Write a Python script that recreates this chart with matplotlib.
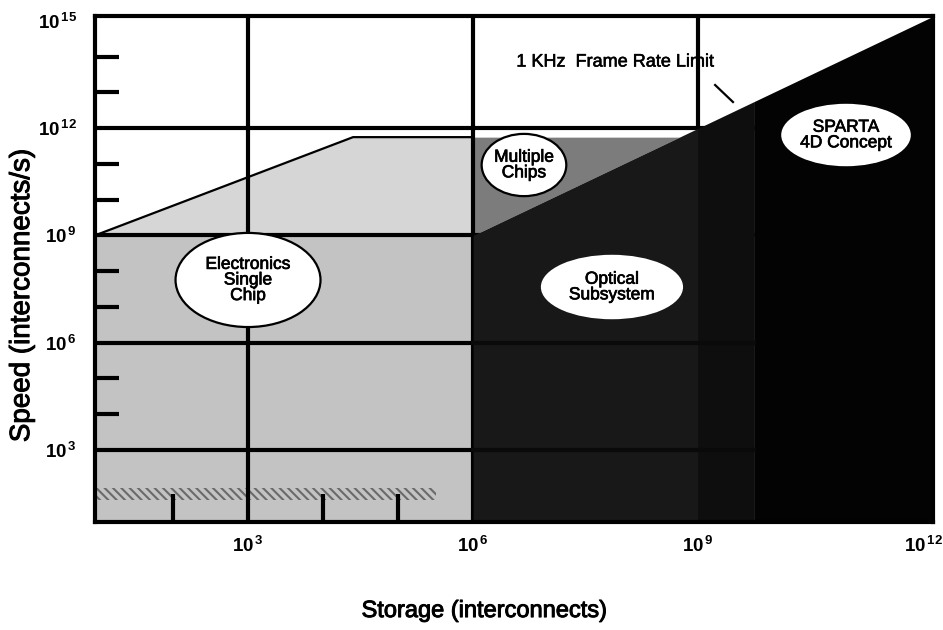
import matplotlib
matplotlib.use("Agg")
import matplotlib.pyplot as plt
import matplotlib.patheffects as pe
from matplotlib.patches import Ellipse
import numpy as np

plt.rcParams['font.family'] = ['Liberation Sans', 'DejaVu Sans']
plt.rcParams['mathtext.fontset'] = 'custom'
plt.rcParams['mathtext.rm'] = 'Liberation Sans'
plt.rcParams['mathtext.bf'] = 'Liberation Sans:bold'
plt.rcParams['mathtext.it'] = 'Liberation Sans:italic'
plt.rcParams['hatch.linewidth'] = 1.5

# Axis extents
storage_limits = [10 ** 0.96, 10 ** 12.13]
speed_limits = [10 ** 0.98, 10 ** 15.14]

# Ticks
storage_ticks = [1e3, 1e6, 1e9, 1e12]
storage_tick_labels = [r'$\mathbf{10^{\,3}}$', r'$\mathbf{10^{\,6}}$',
                       r'$\mathbf{10^{\,9}}$', r'$\mathbf{10^{\,12}}$']
storage_minor = [1e2, 1e4, 1e5]
speed_ticks = [1e3, 1e6, 1e9, 1e12, 1e15]
speed_tick_labels = [r'$\mathbf{10^{\,3}}$', r'$\mathbf{10^{\,6}}$',
                     r'$\mathbf{10^{\,9}}$', r'$\mathbf{10^{\,12}}$',
                     r'$\mathbf{10^{\,15}}$']
speed_minor = [1e4, 1e5, 1e7, 1e8, 1e10, 1e11, 1e13, 1e14]

# 1 KHz frame rate limit: speed = frame_rate * storage
frame_rate = 1e3

# Electronics (single chip) envelope
chip_storage = [10 ** 0.96, 10 ** 4.4, 1e6]
chip_speed = [1e9, 10 ** 11.75, 10 ** 11.75]
chip_floor_speed = 1e9

# Multiple chips: between the frame-rate limit and the chip ceiling
multi_storage = [1e6, 10 ** 8.75]
multi_ceiling = 10 ** 11.75

# Optical subsystem and SPARTA 4D concept (below the frame-rate limit)
optical_storage_a = [1e6, 1e9]
optical_storage_b = [1e9, 10 ** 9.75]
sparta_storage = [10 ** 9.75, 10 ** 12.13]

# Scan streak near the bottom of the chip region
streak_storage = [10 ** 0.96, 10 ** 5.5]
streak_speed = [10 ** 1.6, 10 ** 1.93]

fig = plt.figure(figsize=(9.43, 6.30), dpi=100)
ax = fig.add_axes([95 / 943, 108 / 630, 838 / 943, 506 / 630])
ax.set_xscale('log')
ax.set_yscale('log')
ax.set_xlim(*storage_limits)
ax.set_ylim(*speed_limits)

ymin = speed_limits[0]

# Electronics single chip region
ax.fill_between([storage_limits[0], chip_storage[-1]], ymin, chip_floor_speed,
                color='#c3c3c3', linewidth=0, zorder=1)
ax.fill_between(chip_storage, chip_floor_speed, chip_speed,
                color='#d6d6d6', linewidth=0, zorder=1)
ax.plot(chip_storage, chip_speed, color='black', linewidth=1.6, zorder=2)

# streak
ax.fill_between(streak_storage, streak_speed[0], streak_speed[1],
                facecolor='none', edgecolor='#6a6a6a', hatch='\\\\\\\\',
                linewidth=0, zorder=1.5)

# Multiple chips region
ms = np.array(multi_storage)
ax.fill_between(ms, frame_rate * ms, multi_ceiling,
                color='#7c7c7c', linewidth=0, zorder=1)

# Heavy grid
for xv in storage_ticks[:-1]:
    ax.axvline(xv, color='black', linewidth=3, zorder=2.2)
for yv in speed_ticks[:-1]:
    ax.axhline(yv, color='black', linewidth=3, zorder=2.2)

# Optical subsystem
oa = np.array(optical_storage_a)
ax.fill_between(oa, ymin, frame_rate * oa, color='#181818', linewidth=0, zorder=3)
ob = np.array(optical_storage_b)
ax.fill_between(ob, ymin, frame_rate * ob, color='#0e0e0e', linewidth=0, zorder=3)

# SPARTA 4D concept
sp = np.array(sparta_storage)
ax.fill_between(sp, ymin, frame_rate * sp, color='#030303', linewidth=0, zorder=3)

# faint grid traces through the optical region
for yv in speed_ticks[:2]:
    ax.plot(optical_storage_a + [optical_storage_b[1]], [yv] * 3,
            color='#0a0a0a', linewidth=3, zorder=3.1)

# Ticks and labels
ax.set_xticks(storage_ticks)
ax.set_xticklabels(storage_tick_labels)
ax.set_xticks(storage_minor, minor=True)
ax.set_yticks(speed_ticks)
ax.set_yticklabels(speed_tick_labels)
ax.set_yticks(speed_minor, minor=True)
ax.xaxis.set_minor_formatter(matplotlib.ticker.NullFormatter())
ax.yaxis.set_minor_formatter(matplotlib.ticker.NullFormatter())
ax.tick_params(which='major', length=0, labelsize=13.5)
ax.tick_params(axis='x', which='major', pad=10)
ax.tick_params(axis='y', which='major', pad=13)
ax.tick_params(which='minor', direction='in', width=3, color='black')
ax.tick_params(axis='x', which='minor', length=20)
ax.tick_params(axis='y', which='minor', length=17)

for s in ax.spines.values():
    s.set_linewidth(3)
    s.set_zorder(5)

thick = [pe.withStroke(linewidth=0.7, foreground='black')]

ax.set_xlabel('Storage (interconnects)', fontsize=17, path_effects=thick)
ax.xaxis.set_label_coords(0.465, -0.176)
ax.xaxis.label.set_va('center')
ax.set_ylabel('Speed (interconnects/s)', fontsize=20, path_effects=thick)
ax.yaxis.set_label_coords(-0.087, 0.447)
ax.yaxis.label.set_va('center')

# Region labels in white ellipses
bubbles = [
    ((0.1826, 0.4783), 0.173, 0.186, 'Electronics\nSingle\nChip', True),
    ((0.5119, 0.7055), 0.101, 0.123, 'Multiple\nChips', True),
    ((0.6169, 0.4644), 0.167, 0.123, 'Optical\nSubsystem', False),
    ((0.8962, 0.7648), 0.152, 0.119, 'SPARTA\n4D Concept', False),
]
for center, w, h, label, outline in bubbles:
    ax.add_patch(Ellipse(center, w, h, transform=ax.transAxes,
                         facecolor='white',
                         edgecolor='black' if outline else 'white',
                         linewidth=1.6, zorder=6))
    ax.text(center[0], center[1], label, transform=ax.transAxes,
            ha='center', va='center', fontsize=12.5, linespacing=1.05,
            zorder=7, path_effects=[pe.withStroke(linewidth=0.5, foreground='black')])

# Frame-rate limit annotation
ax.text(0.6205, 0.909, '1 KHz  Frame Rate Limit', transform=ax.transAxes,
        ha='center', va='center', fontsize=13, zorder=2.1,
        path_effects=[pe.withStroke(linewidth=0.4, foreground='black')])
ax.plot([0.740, 0.7613], [0.8636, 0.830], transform=ax.transAxes,
        color='black', linewidth=1.6, zorder=4)

fig.savefig('out.png', dpi=100)
